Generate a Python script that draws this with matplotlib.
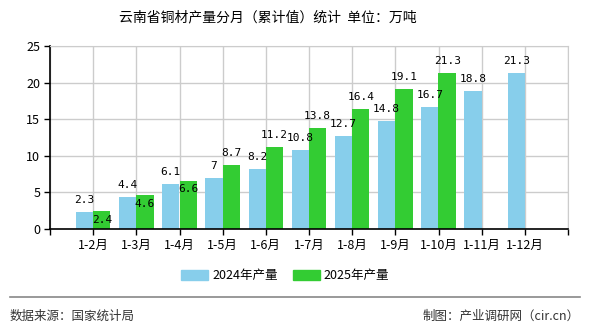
import numpy as np
import matplotlib.pyplot as plt
from matplotlib.lines import Line2D
from matplotlib.patches import Patch

plt.rcParams['font.family'] = ['Noto Sans CJK SC', 'DejaVu Sans']

months = ['1-2月', '1-3月', '1-4月', '1-5月', '1-6月', '1-7月',
          '1-8月', '1-9月', '1-10月', '1-11月', '1-12月']
out_2024 = [2.3, 4.4, 6.1, 7, 8.2, 10.8, 12.7, 14.8, 16.7, 18.8, 21.3]
out_2025 = [2.4, 4.6, 6.6, 8.7, 11.2, 13.8, 16.4, 19.1, 21.3]
yticks = [0, 5, 10, 15, 20, 25]

c24 = '#87CEEB'
c25 = '#33CC33'
grid_c = '#CCCCCC'

fig = plt.figure(figsize=(5.9, 3.3), dpi=100)
ax = fig.add_axes([50/590, 101/330, 518/590, 183/330])

x = np.arange(len(months))
w = 0.4
ax.bar(x - w/2, out_2024, w, color=c24, zorder=2)
ax.bar(x[:len(out_2025)] + w/2, out_2025, w, color=c25, zorder=2)

lab_font = dict(family='DejaVu Sans Mono', fontsize=8, color='black')
for i, v in enumerate(out_2024):
    ax.annotate(f'{v:g}', (x[i] - w/2, v), xytext=(0, 8.6), textcoords='offset points',
                ha='center', va='center', zorder=3, **lab_font)
for i, v in enumerate(out_2025):
    # close to the 2024 label -> put it inside the bar
    dy = -6 if v - out_2024[i] < 1 else 8.6
    ax.annotate(f'{v:g}', (x[i] + w/2, v), xytext=(0, dy), textcoords='offset points',
                ha='center', va='center', zorder=3, **lab_font)

ax.set_xlim(-1, len(months))
ax.set_ylim(0, 25)
ax.set_yticks(yticks)
ax.set_xticks(np.arange(-1, len(months) + 1))
ax.set_xticklabels([''] + months + [''])
ax.tick_params(axis='x', length=4, width=1, color='black', labelsize=9, pad=3)
ax.tick_params(axis='y', length=4, width=1, color='black', labelsize=9, pad=3)
ax.grid(True, color=grid_c, linewidth=1, zorder=0)
ax.set_axisbelow(True)
for s in ['top', 'right']:
    ax.spines[s].set_color(grid_c)
for s in ['left', 'bottom']:
    ax.spines[s].set_color('black')
    ax.spines[s].set_linewidth(1.2)

fig.text(268/590, 1 - 17/330, '云南省铜材产量分月（累计值）统计  单位：万吨',
         ha='center', va='center', fontsize=10, fontweight='medium', color='black')

handles = [Patch(color=c24, label='2024年产量'), Patch(color=c25, label='2025年产量')]
fig.legend(handles=handles, loc='center', bbox_to_anchor=(285/590, 1 - 276/330), ncol=2,
           frameon=False, fontsize=9, handlelength=2.2, handleheight=0.8,
           columnspacing=1.2, handletextpad=0.3)

fig.add_artist(Line2D([10/590, 580/590], [1 - 297/330, 1 - 297/330],
                      color='#888888', linewidth=1.2))
fig.text(10/590, 1 - 316/330, '数据来源：国家统计局', ha='left', va='center',
         fontsize=9, color='#333333')
fig.text(580/590, 1 - 316/330, '制图：产业调研网（cir.cn）', ha='right', va='center',
         fontsize=9, color='#333333')

fig.savefig('out.png', dpi=100)
